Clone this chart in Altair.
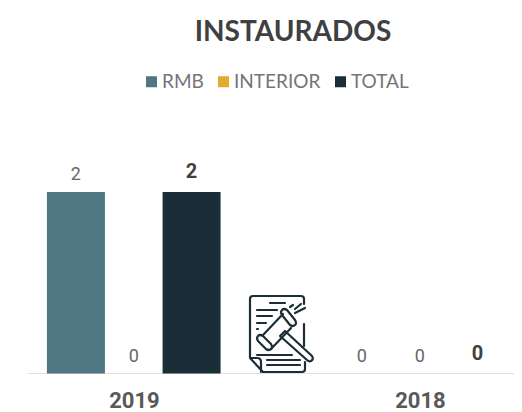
import base64
import altair as alt
import pandas as pd

years = ["2019", "2018"]
series = ["RMB", "INTERIOR", "TOTAL"]
colors = ["#4f7783", "#e3aa2f", "#1b2e37"]
values_2019 = [2, 0, 2]
values_2018 = [0, 0, 0]

rows = []
for year, vals in zip(years, [values_2019, values_2018]):
    for s, v in zip(series, vals):
        rows.append({"year": year, "serie": s, "value": v})
df = pd.DataFrame(rows)

icon_svg = """<svg xmlns="http://www.w3.org/2000/svg" viewBox="0 0 100 100" width="100" height="100">
<g fill="none" stroke="#1b2e37" stroke-width="2.2" stroke-linecap="round" stroke-linejoin="round">
<path d="M20 78V19Q20 16 23 16H71Q74 16 74 19V24M74 44V66M75 82V89Q75 92 72 92H33L20 78H27Q31 78 31 82V92"/>
<path d="M40 23H55M27 30H47M27 36H42M27 43H36M27 49H28M27 75H62M37 80H70M37 85H70"/>
<path d="M33 55L53 34M41 69L61 48"/>
<path d="M28 56Q26 58 28 61L36 69Q39 71 41 69Q43 67 41 64L33 56Q30 54 28 56Z"/>
<path d="M52 30Q50 32 52 35L60 45Q63 47 65 45Q67 43 65 40L57 30Q54 28 52 30Z"/>
<path d="M50 56L55 51L82 76Q84 79 81 81Q79 82 77 80Z"/>
<path d="M60 27L63 25M65 33L75 28M65 29L71 24"/>
</g></svg>"""
icon_url = "data:image/svg+xml;base64," + base64.b64encode(icon_svg.encode()).decode()

x = alt.X("year:N", sort=years,
          scale=alt.Scale(domain=years, range=[-36.5, 535.5], paddingInner=0, paddingOuter=0, round=False),
          axis=alt.Axis(title=None, domain=False, ticks=False, labelAngle=0, labelFont="Roboto", labelFontWeight="bold",
                        labelFontSize=22, labelColor="#595959", labelPadding=17))
xo = alt.XOffset("serie:N", sort=series,
                 scale=alt.Scale(domain=series, range=[55.5, 229], paddingInner=0, paddingOuter=0, round=False))
y = alt.Y("value:Q", scale=alt.Scale(domain=[0, 3.014]), axis=None)

bars = alt.Chart(df).mark_bar(size=58).encode(
    x=x, xOffset=xo, y=y,
    color=alt.Color("serie:N", sort=series, scale=alt.Scale(domain=series, range=colors),
                    legend=alt.Legend(title=None, orient="none", legendX=114, legendY=-28, direction="horizontal",
                                      columns=3, symbolType="square", symbolSize=121, symbolStrokeWidth=0,
                                      labelFont="Lato", labelFontSize=19, labelColor="#757575", columnPadding=10,
                                      labelOffset=1)),
)
plain = alt.Chart(df).transform_filter("datum.serie != 'TOTAL'").mark_text(
    font="Roboto", fontSize=18, color="#666666", baseline="bottom", dy=-8).encode(x=x, xOffset=xo, y=y, text="value:Q")
bold = alt.Chart(df).transform_filter("datum.serie == 'TOTAL'").mark_text(
    font="Roboto", fontSize=20, fontWeight="bold", color="#404040", baseline="bottom", dy=-10).encode(x=x, xOffset=xo, y=y, text="value:Q")
baseline = alt.Chart(df).mark_rule(color="#e0e0e0", strokeWidth=1).encode(
    x=alt.value(0), x2=alt.value(486), y=alt.value(273.5))
icon = alt.Chart(df.head(1)).mark_image(url=icon_url, width=100, height=100).encode(
    x=alt.value(252), y=alt.value(230))

chart = alt.layer(baseline, bars, plain, bold, icon).properties(
    width=486, height=273.5,
    title=alt.TitleParams("INSTAURADOS", font="Lato", fontSize=28, fontWeight="bold", color="#404040",
                          anchor="middle", dx=22, offset=25),
    autosize=alt.AutoSizeParams(type="none"),
    padding={"left": 20, "top": 92, "right": 0, "bottom": 38},
).configure_view(stroke=None)

chart.save("out.html", embed_options={"renderer": "svg", "actions": False})
